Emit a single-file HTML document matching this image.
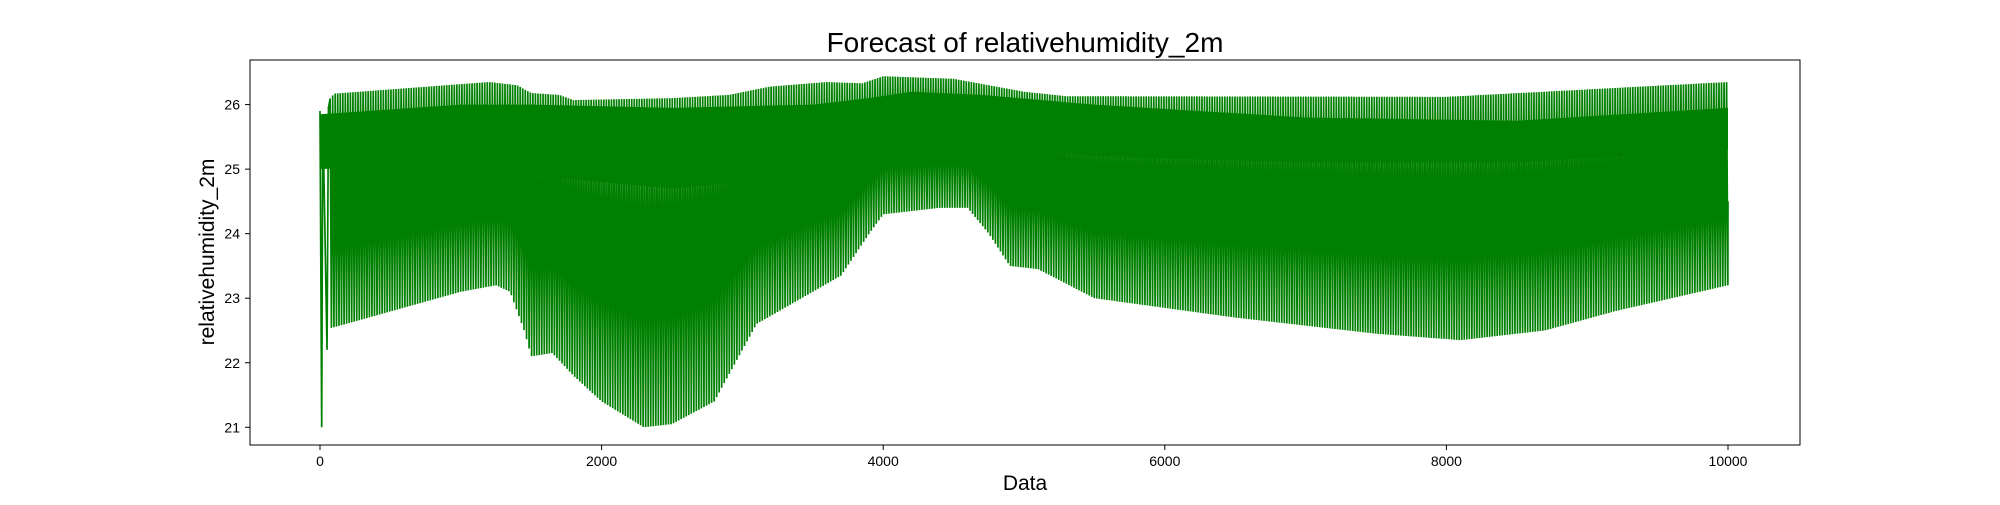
<!DOCTYPE html>
<html><head><meta charset="utf-8"><style>
body{margin:0;background:#fff;}
svg text{font-family:"Liberation Sans","DejaVu Sans",sans-serif;}
</style></head><body>
<svg id="chart" width="2000" height="500" viewBox="0 0 2000 500" xmlns="http://www.w3.org/2000/svg">
<rect width="2000" height="500" fill="#fff"/>
<g id="plot"></g>
<rect x="250" y="60" width="1550" height="385" fill="none" stroke="#000" stroke-width="1"/>
<g id="axes"></g>
<text x="1025" y="52" font-size="28" text-anchor="middle">Forecast of relativehumidity_2m</text>
<text x="1025" y="490" font-size="21" text-anchor="middle">Data</text>
<text transform="translate(214,252) rotate(-90)" font-size="21" text-anchor="middle">relativehumidity_2m</text>
</svg>
<script>
const xTicks=[0,2000,4000,6000,8000,10000];
const yTicks=[21,22,23,24,25,26];
const upperX=[0,100,1200,1400,1500,1700,1800,2500,2900,3200,3600,3850,4000,4500,5000,5300,8000,10000];
const upperV=[25.9,26.17,26.35,26.3,26.18,26.15,26.07,26.1,26.15,26.28,26.35,26.33,26.44,26.4,26.2,26.13,26.12,26.35];
const lowerX=[0,100,1000,1250,1350,1450,1500,1650,1800,2000,2300,2500,2800,2950,3100,3500,3700,3900,4000,4400,4600,4750,4900,5100,5500,6500,7500,8100,8700,9200,10000];
const lowerV=[22.5,22.55,23.1,23.2,23.1,22.5,22.1,22.15,21.8,21.4,21.0,21.05,21.4,22.0,22.6,23.1,23.35,24.0,24.3,24.4,24.4,24.0,23.5,23.45,23.0,22.7,22.45,22.35,22.5,22.8,23.2];
const denseX=[0,1000,1500,2500,3500,3900,4200,4700,5500,7000,8500,10000];
const denseTopV=[25.85,26.0,26.0,25.95,26.0,26.1,26.2,26.15,26.0,25.8,25.75,25.95];
const denseBotV=[25.0,25.1,24.9,24.7,24.9,25.2,25.5,25.4,25.2,25.1,25.1,25.3];
const startX=[0,12,20,50,60];
const startV=[25.9,21.0,25.85,22.2,25.95];
const period=18;
const xMax=10000;

const X0=320,X1=1728,Y26=104.6,Y21=427.3;
function sx(v){return X0+(v/10000)*(X1-X0);}
function sy(v){return Y21-(v-21)/5*(Y21-Y26);}
function interp(xs,vs,x){
  if(x<=xs[0])return vs[0];
  for(let i=1;i<xs.length;i++){if(x<=xs[i]){const t=(x-xs[i-1])/(xs[i]-xs[i-1]);return vs[i-1]+t*(vs[i]-vs[i-1]);}}
  return vs[vs.length-1];
}
const NS="http://www.w3.org/2000/svg";
const plot=document.getElementById('plot');
let pts=[];
for(let i=0;i<denseX.length;i++)pts.push(sx(denseX[i])+','+sy(denseTopV[i]));
for(let i=denseX.length-1;i>=0;i--)pts.push(sx(denseX[i])+','+sy(denseBotV[i]));
const band=document.createElementNS(NS,'polygon');
band.setAttribute('points',pts.join(' '));
band.setAttribute('fill','#008000');


plot.appendChild(band);
let lp=[];
for(let i=0;i<startX.length;i++)lp.push(sx(startX[i]).toFixed(2)+','+sy(startV[i]).toFixed(2));
for(let x=72;x<xMax;x+=period){
  lp.push(sx(x).toFixed(2)+','+sy(interp(upperX,upperV,x)).toFixed(2));
  const xm=x+period/2;
  lp.push(sx(xm).toFixed(2)+','+sy(interp(lowerX,lowerV,xm)).toFixed(2));
}
lp.push(sx(xMax).toFixed(2)+','+sy(24.5).toFixed(2));
const line=document.createElementNS(NS,'polyline');
line.setAttribute('points',lp.join(' '));
line.setAttribute('fill','none');
line.setAttribute('stroke','#008000');
line.setAttribute('stroke-width','1.7');


plot.appendChild(line);
const axes=document.getElementById('axes');
xTicks.forEach(t=>{
  const l=document.createElementNS(NS,'line');
  l.setAttribute('x1',sx(t));l.setAttribute('x2',sx(t));l.setAttribute('y1',445);l.setAttribute('y2',450);
  l.setAttribute('stroke','#000');
  
  
  axes.appendChild(l);
  const tx=document.createElementNS(NS,'text');
  tx.setAttribute('x',sx(t));tx.setAttribute('y',466);tx.setAttribute('font-size','14');tx.setAttribute('text-anchor','middle');
  tx.textContent=t;
  
  
  axes.appendChild(tx);
});
yTicks.forEach(t=>{
  const l=document.createElementNS(NS,'line');
  l.setAttribute('x1',245);l.setAttribute('x2',250);l.setAttribute('y1',sy(t));l.setAttribute('y2',sy(t));
  l.setAttribute('stroke','#000');
  
  
  axes.appendChild(l);
  const tx=document.createElementNS(NS,'text');
  tx.setAttribute('x',240);tx.setAttribute('y',sy(t)+5);tx.setAttribute('font-size','14');tx.setAttribute('text-anchor','end');
  tx.textContent=t;
  
  
  axes.appendChild(tx);
});
</script>
</body></html>
